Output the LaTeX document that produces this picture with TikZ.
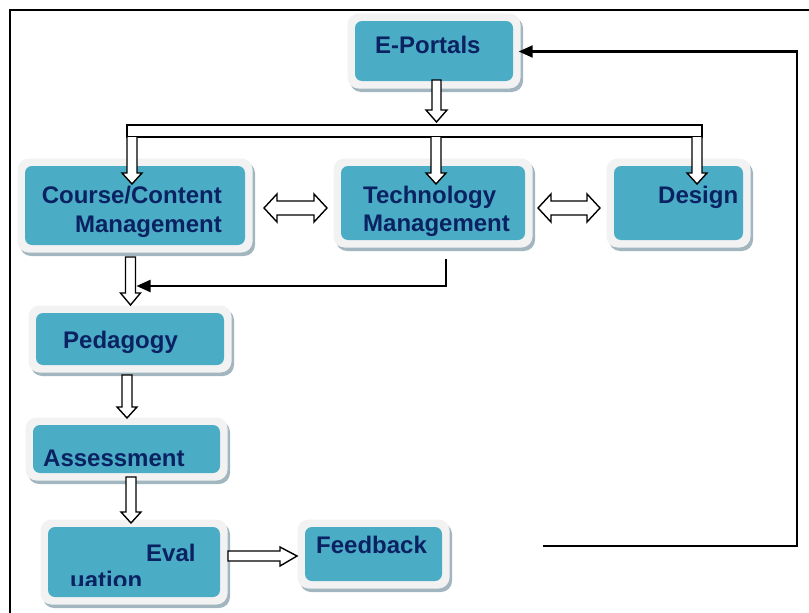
\documentclass[tikz,border=0pt]{standalone}
\usepackage{fontspec}
\setmainfont{Liberation Sans}
\usetikzlibrary{fit,arrows.meta}
\definecolor{boxblue}{HTML}{4BACC6}
\definecolor{framegrey}{HTML}{F2F2F2}
\definecolor{shadowgrey}{HTML}{A2B6C0}
\definecolor{navy}{RGB}{10,34,98}
\tikzset{
  inbox/.style={fill=boxblue, rounded corners=7pt, inner sep=0pt, draw=none},
  txt/.style={font=\fontsize{24}{28}\selectfont\bfseries, text=navy, inner sep=0pt},
  blk/.style={draw=black, fill=white, line width=1.4pt, line join=miter},
  conn/.style={draw=black, line width=2.1pt},
  tipped/.style={-{Triangle[length=14pt,width=12pt]}},
}
\newcommand\panel[5]{%
  \fill[shadowgrey, rounded corners=11pt] (#2-7.5+2.5,#3-7.5+3.5) rectangle (#4+7.5+2.5,#5+7.5+3.5);
  \fill[framegrey, rounded corners=11pt] (#2-7.5,#3-7.5) rectangle (#4+7.5,#5+7.5);
  \node[inbox, fit={(#2,#3) (#4,#5)}] (#1) {};}
\begin{document}
\begin{tikzpicture}[x=1pt,y=-1pt]
\useasboundingbox (0,0) rectangle (809,613);
% outer frame
\draw[line width=1.8pt] (809,10) -- (10,10) -- (10,613);
% panels
\panel{ep}{355}{21}{513}{81}
\panel{cc}{25}{166}{245}{245}
\panel{tm}{341}{166}{525}{240}
\panel{ds}{614}{166}{743}{240}
\panel{pd}{36}{313}{224}{365}
\panel{as}{33}{425}{220}{473}
\panel{ev}{48}{527}{220}{597}
\panel{fb}{305}{527}{442}{581}
% texts
\node[txt, anchor=base west] (epT) at (375,53) {E-Portals};
\node[txt, anchor=base east] (ccT1) at (222,203) {Course/Content};
\node[txt, anchor=base east] (ccT2) at (222,232) {Management};
\node[txt, anchor=base west] (tmT1) at (363,203) {Technology};
\node[txt, anchor=base west] (tmT2) at (363,231) {Management};
\node[txt, anchor=base west] (dsT) at (658,203) {Design};
\node[txt, anchor=base west] (pdT) at (63,348) {Pedagogy};
\node[txt, anchor=base west] (asT) at (43,466) {Assessment};
\node[txt, anchor=base west] (evT1) at (146,561) {Eval};
\begin{scope}
  \clip (40,565) rectangle (230,585);
  \node[txt, anchor=base west] (evT2) at (70,588) {uation};
\end{scope}
\node[txt, anchor=base west] (fbT) at (316,553) {Feedback};
% block arrow from E-Portals
\draw[blk] (432,80) -- (432,110) -- (426,110) -- (436.5,122) -- (447,110) -- (441,110) -- (441,80) -- cycle;
% distribution bar and arms
\draw[blk] (127,125) rectangle (702,137);
\draw[blk] (127,137) -- (127,173) -- (122,173) -- (132,184) -- (142,173) -- (137,173) -- (137,137);
\draw[blk] (431,137) -- (431,173) -- (426,173) -- (436,184) -- (446,173) -- (441,173) -- (441,137);
\draw[blk] (692,137) -- (692,173) -- (687,173) -- (697,184) -- (707,173) -- (702,173) -- (702,137);
% double arrows
\draw[blk] (264,208) -- (277,194) -- (277,201) -- (314,201) -- (314,194) -- (327,208) -- (314,222) -- (314,215) -- (277,215) -- (277,222) -- cycle;
\draw[blk] (538,208) -- (551,194) -- (551,201) -- (587,201) -- (587,194) -- (600,208) -- (587,222) -- (587,215) -- (551,215) -- (551,222) -- cycle;
% vertical chain
\draw[blk] (125.5,257) -- (125.5,293) -- (120.5,293) -- (130.5,305) -- (140.5,293) -- (135.5,293) -- (135.5,257) -- cycle;
\draw[blk] (122,375) -- (122,407) -- (117,407) -- (127,418) -- (137,407) -- (132,407) -- (132,375) -- cycle;
\draw[blk] (126,477) -- (126,512) -- (121,512) -- (131,523) -- (141,512) -- (136,512) -- (136,477) -- cycle;
% evaluation -> feedback
\draw[blk] (228,551) -- (280,551) -- (280,547) -- (297,556) -- (280,566) -- (280,561) -- (228,561) -- cycle;
% technology -> pedagogy line
\coordinate (tmout) at (446,259);
\coordinate (pdin) at (136.5,286);
\draw[conn, tipped] (tmout) |- (pdin);
% feedback loop
\coordinate (fbout) at (543,546);
\coordinate (loopcorner) at (797,546);
\draw[conn, tipped] (fbout) -- (loopcorner) |- ([xshift=5.5pt,yshift=-0.5pt]ep.east);
\end{tikzpicture}
\end{document}
